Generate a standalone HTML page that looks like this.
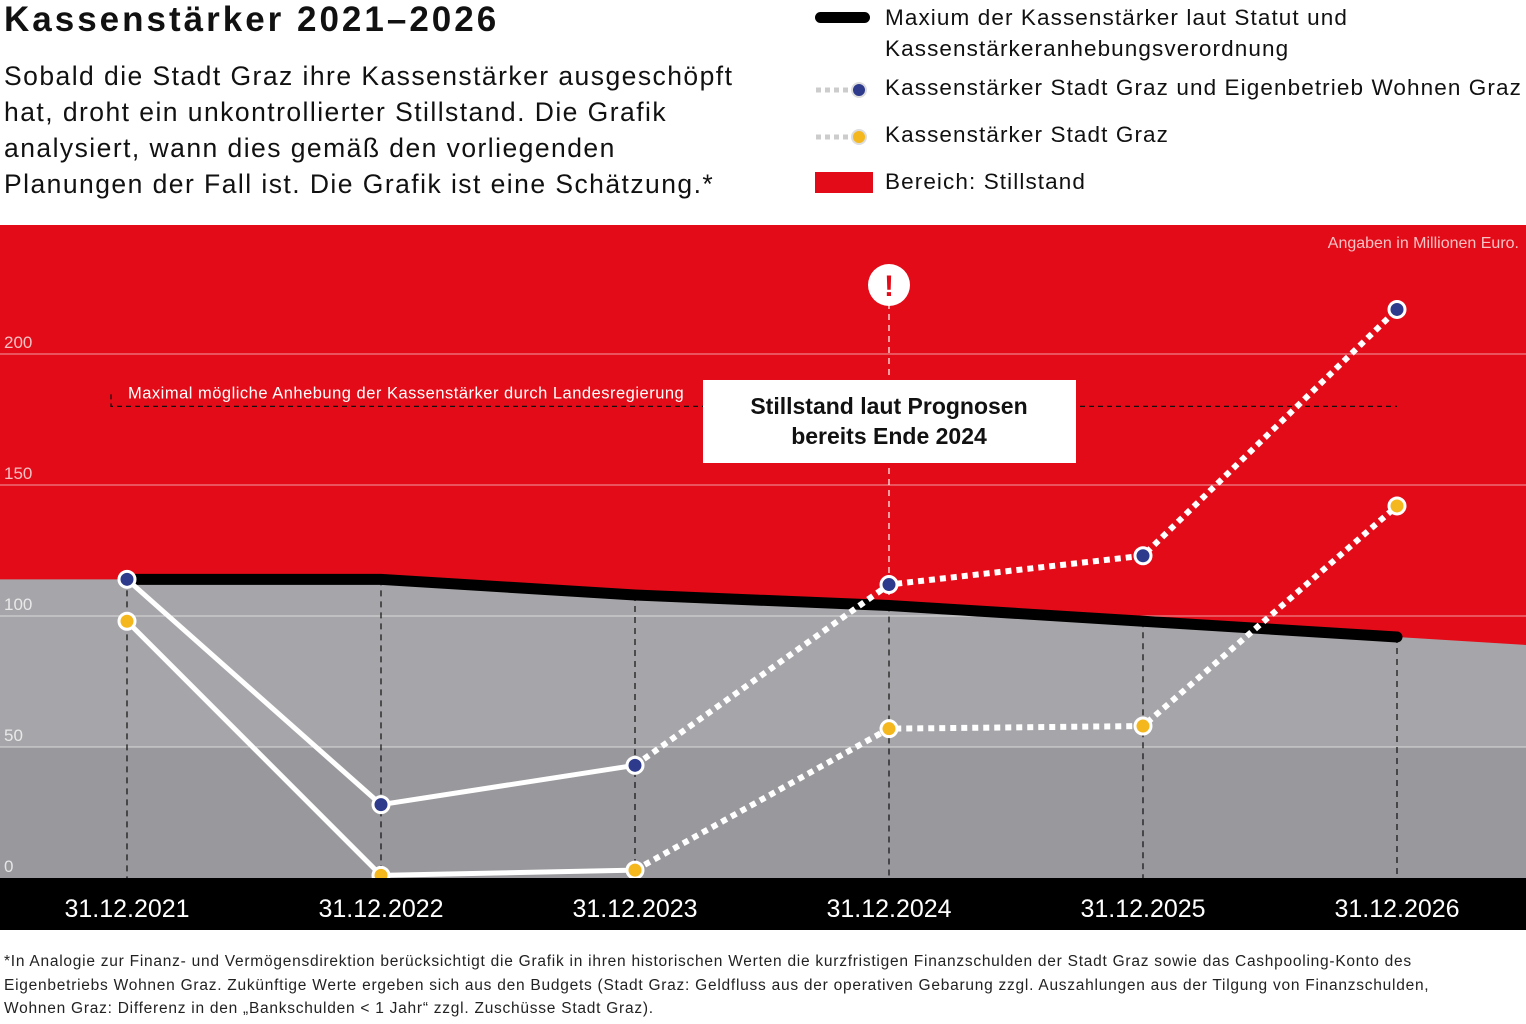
<!DOCTYPE html>
<html><head><meta charset="utf-8"><style>
body{margin:0;width:1526px;height:1024px;background:#fff;font-family:"Liberation Sans",sans-serif;overflow:hidden;position:relative}
.t{position:absolute;color:#111;white-space:nowrap}
</style></head><body>
<div class="t" style="left:4px;top:0px;font-size:35px;font-weight:bold;letter-spacing:3px">Kassenstärker 2021–2026</div>
<div class="t" style="left:4px;top:58px;font-size:26.5px;line-height:36px;letter-spacing:1.45px">Sobald die Stadt Graz ihre Kassenstärker ausgeschöpft<br>hat, droht ein unkontrollierter Stillstand. Die Grafik<br>analysiert, wann dies gemäß den vorliegenden<br>Planungen der Fall ist. Die Grafik ist eine Schätzung.*</div>
<div>
<div style="position:absolute;left:815px;top:12px;width:55px;height:11px;background:#000;border-radius:6px"></div>
<div class="t" style="left:885px;top:2px;font-size:22.5px;line-height:31px;letter-spacing:1.1px">Maxium der Kassenstärker laut Statut und<br>Kassenstärkeranhebungsverordnung</div>
<svg style="position:absolute;left:812px;top:78px" width="60" height="25">
<line x1="4" y1="12" x2="40" y2="12" stroke="#ccc" stroke-width="5" stroke-dasharray="5,4"/><circle cx="47" cy="12" r="7" fill="#2e3a8c" stroke="#ddd" stroke-width="2"/></svg>
<svg style="position:absolute;left:812px;top:125px" width="60" height="25"><line x1="4" y1="12" x2="40" y2="12" stroke="#ccc" stroke-width="5" stroke-dasharray="5,4"/><circle cx="47" cy="12" r="7" fill="#f4b71d" stroke="#ddd" stroke-width="2"/></svg>
<div class="t" style="left:885px;top:75px;font-size:22.5px;letter-spacing:1.1px">Kassenstärker Stadt Graz und Eigenbetrieb Wohnen Graz</div>
<div class="t" style="left:885px;top:122px;font-size:22.5px;letter-spacing:1.1px">Kassenstärker Stadt Graz</div>
<div style="position:absolute;left:815px;top:172px;width:58px;height:21px;background:#e20b17"></div>
<div class="t" style="left:885px;top:169px;font-size:22.5px;letter-spacing:1.1px">Bereich: Stillstand</div>
</div>
<svg id="chart" style="position:absolute;left:0;top:225px" width="1526" height="705"></svg>
<div class="t" style="left:4px;top:950px;font-size:15.5px;line-height:23.5px;color:#222;letter-spacing:0.75px">*In Analogie zur Finanz- und Vermögensdirektion berücksichtigt die Grafik in ihren historischen Werten die kurzfristigen Finanzschulden der Stadt Graz sowie das Cashpooling-Konto des<br>Eigenbetriebs Wohnen Graz. Zukünftige Werte ergeben sich aus den Budgets (Stadt Graz: Geldfluss aus der operativen Gebarung zzgl. Auszahlungen aus der Tilgung von Finanzschulden,<br>Wohnen Graz: Differenz in den „Bankschulden &lt; 1 Jahr“ zzgl. Zuschüsse Stadt Graz).</div>
<script>
const categories=["31.12.2021","31.12.2022","31.12.2023","31.12.2024","31.12.2025","31.12.2026"];
const maxValues=[114,114,108,104,98,92];
const seriesTotal=[114,28,43,112,123,217];
const seriesStadt=[98,1,3,57,58,142];
const yTicks=[0,50,100,150,200];
const limitValue=180;
const NS="http://www.w3.org/2000/svg";
const svg=document.getElementById('chart');
const X=i=>127+i*254;
const Y=v=>653-v*2.62;
function mk(t,a,p){const e=document.createElementNS(NS,t);for(const k in a)e.setAttribute(k,a[k]);(p||svg).appendChild(e);return e;}
let e;
e=mk('rect',{x:0,y:0,width:1526,height:653,fill:'#e20b17'});

const slope=(maxValues[5]-maxValues[4]);
let pts=`0,${Y(maxValues[0])} `+maxValues.map((v,i)=>`${X(i)},${Y(v)}`).join(' ')+` 1526,${Y(maxValues[5]+slope*(1526-X(5))/254)} 1526,653 0,653`;
e=mk('polygon',{points:pts,fill:'#a6a5a9'});

e=mk('rect',{x:0,y:Y(50),width:1526,height:653-Y(50),fill:'#99989c'});

yTicks.forEach(t=>{
 if(t>0){e=mk('line',{x1:0,x2:1526,y1:Y(t),y2:Y(t),stroke:'rgba(255,255,255,0.6)','stroke-width':1});
 }
 e=mk('text',{x:4,y:Y(t)-6,fill:'rgba(255,255,255,0.75)','font-size':17});e.textContent=t;
 
});
categories.forEach((c,i)=>{
 e=mk('line',{x1:X(i),x2:X(i),y1:Y(maxValues[i]),y2:653,stroke:'#111','stroke-width':1.2,'stroke-dasharray':'6,5'});
 
});
e=mk('line',{x1:X(3),x2:X(3),y1:78,y2:Y(maxValues[3]),stroke:'#fff','stroke-width':1.2,'stroke-dasharray':'6,5'});

e=mk('polyline',{points:`111,${Y(limitValue)-12} 111,${Y(limitValue)} 1397,${Y(limitValue)}`,fill:'none',stroke:'#111','stroke-width':1.2,'stroke-dasharray':'5,4'});

e=mk('text',{x:128,y:Y(limitValue)-8,fill:'#fff','font-size':16.5,'letter-spacing':'0.5'});e.textContent='Maximal mögliche Anhebung der Kassenstärker durch Landesregierung';

e=mk('text',{x:1519,y:23,fill:'rgba(255,255,255,0.75)','font-size':16,'text-anchor':'end'});e.textContent='Angaben in Millionen Euro.';

e=mk('polyline',{points:maxValues.map((v,i)=>`${X(i)},${Y(v)}`).join(' '),fill:'none',stroke:'#000','stroke-width':11,'stroke-linecap':'round'});

function series(vals,color,name){
 const p=i=>`${X(i)},${Y(vals[i])}`;
 e=mk('polyline',{points:[0,1,2].map(p).join(' '),fill:'none',stroke:'#fff','stroke-width':5});
 
 e=mk('polyline',{points:[2,3,4,5].map(p).join(' '),fill:'none',stroke:'#fff','stroke-width':6,'stroke-dasharray':'6,5'});
 
 vals.forEach((v,i)=>{e=mk('circle',{cx:X(i),cy:Y(v),r:8,fill:color,stroke:'#fff','stroke-width':3});
 });
}
series(seriesStadt,'#f4b71d','stadt-graz');
series(seriesTotal,'#2e3a8c','stadt-und-wohnen');
e=mk('rect',{x:0,y:653,width:1526,height:52,fill:'#000'});

categories.forEach((c,i)=>{e=mk('text',{x:X(i),y:692,fill:'#fff','font-size':25,'text-anchor':'middle'});e.textContent=c;
 });
e=mk('circle',{cx:X(3),cy:60,r:21,fill:'#fff'});

e=mk('text',{x:X(3),y:71,fill:'#e20b17','font-size':30,'font-weight':'bold','text-anchor':'middle'});e.textContent='!';

e=mk('rect',{x:703,y:155,width:373,height:83,fill:'#fff'});

e=mk('text',{x:889,y:189,fill:'#111','font-size':23,'font-weight':'bold','text-anchor':'middle'});e.textContent='Stillstand laut Prognosen';

e=mk('text',{x:889,y:219,fill:'#111','font-size':23,'font-weight':'bold','text-anchor':'middle'});e.textContent='bereits Ende 2024';

</script>
</body></html>
